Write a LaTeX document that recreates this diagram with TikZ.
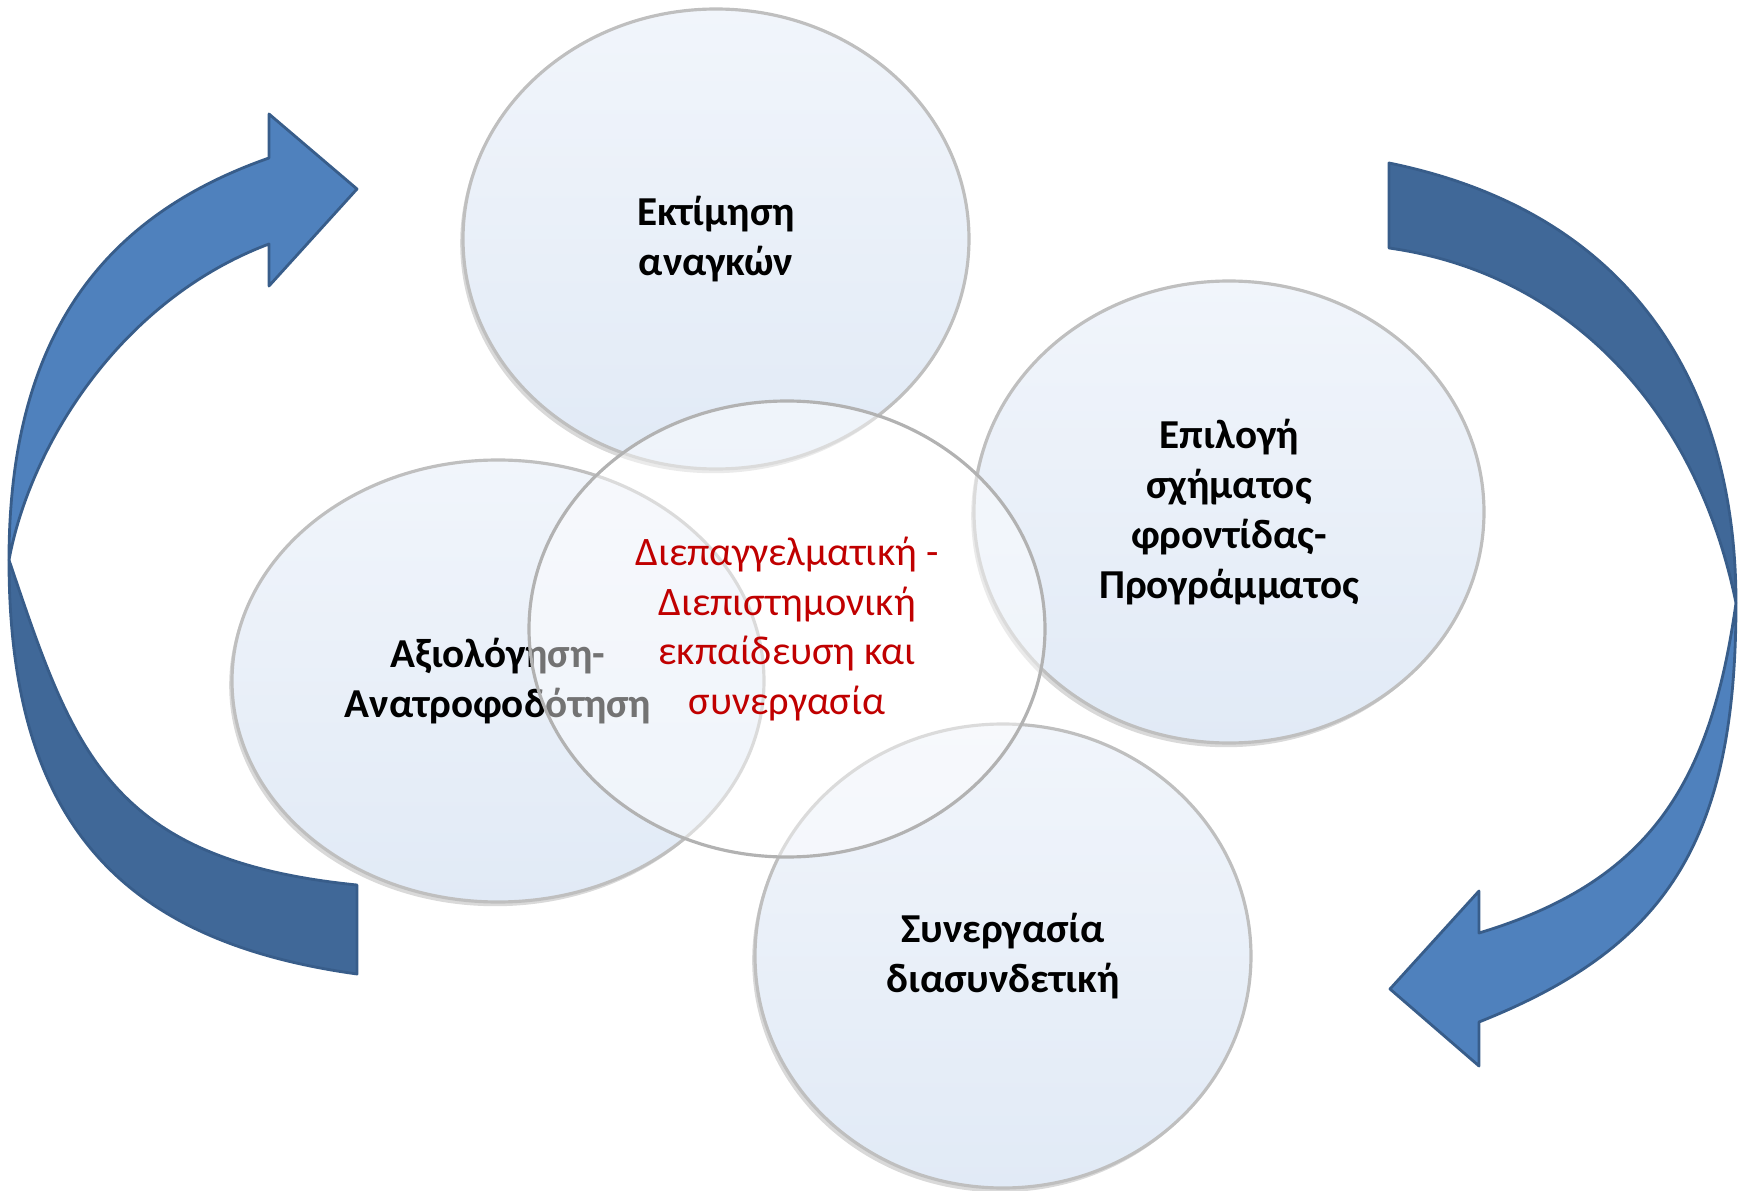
\documentclass[tikz,border=0pt]{standalone}
\usepackage{fontspec}
\setmainfont{Carlito}
\usetikzlibrary{shapes.geometric, shadows}

\definecolor{arrlight}{RGB}{79,129,189}
\definecolor{arrdark}{RGB}{64,104,152}
\definecolor{arredge}{RGB}{56,93,138}
\definecolor{bubtop}{RGB}{241,245,251}
\definecolor{bubbot}{RGB}{225,234,246}
\definecolor{corered}{RGB}{192,0,0}

\tikzstyle{frontface} = [fill=arrlight, draw=arredge, line width=0.8pt, line join=round]
\tikzstyle{backface} = [fill=arrdark, draw=arredge, line width=0.8pt, line join=round]
\tikzstyle{bubble} = [ellipse, draw=gray!50, line width=0.9pt, top color=bubtop, bottom color=bubbot,
  drop shadow={shadow xshift=-0.8pt, shadow yshift=-1.2pt, opacity=0.3},
  align=center, font=\fontsize{11.7}{14.2}\selectfont\bfseries]
\tikzstyle{core} = [ellipse, draw=gray!60, line width=0.9pt, fill=white, fill opacity=0.45,
  text opacity=1, text=corered, align=center, font=\fontsize{11.5}{14.2}\selectfont]

\begin{document}
\begin{tikzpicture}[x=0.1mm, y=-0.1mm]
  \useasboundingbox (0,0) rectangle (1752,1191);

  \filldraw[backface] (357,974) -- (357,885) .. controls (107,860) and (73,749) .. (9,560)
    .. controls (9,820) and (119,941) .. (357,974) -- cycle;
  \filldraw[frontface] (269,158) -- (269,114) -- (357,189) -- (269,286) -- (269,244)
    .. controls (120,300) and (30,446) .. (9,560)
    .. controls (9,330) and (109,214) .. (269,158) -- cycle;

  \filldraw[backface] (1389,163) -- (1389,248) .. controls (1567,273) and (1696,407) .. (1736,603)
    .. controls (1736,400) and (1644,215) .. (1389,163) -- cycle;
  \filldraw[frontface] (1479,1022) -- (1479,1066) -- (1390,989) -- (1479,891) -- (1479,933)
    .. controls (1652,881) and (1711,781) .. (1736,603)
    .. controls (1736,843) and (1665,948) .. (1479,1022) -- cycle;

  \foreach \n/\x/\y/\w/\h/\t in {needs/716/239/5.06/4.60/{Εκτίμηση\\αναγκών},
      review/498/681/5.32/4.42/{Αξιολόγηση-\\Ανατροφοδότηση},
      scheme/1229/512/5.10/4.62/{Επιλογή\\σχήματος\\φροντίδας-\\Προγράμματος},
      liaison/1003/956/4.96/4.64/{Συνεργασία\\διασυνδετική}} {
    \node[bubble, minimum width=\w cm, minimum height=\h cm] (\n) at (\x,\y) {\t};
  }
  \node[core, minimum width=5.16cm, minimum height=4.56cm] (team) at (787,629)
    {Διεπαγγελματική -\\Διεπιστημονική\\εκπαίδευση και\\συνεργασία};
\end{tikzpicture}
\end{document}
